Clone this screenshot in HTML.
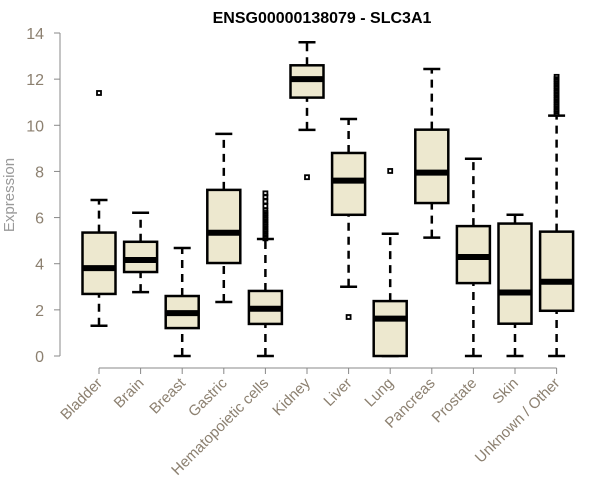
<!DOCTYPE html>
<html><head><meta charset="utf-8"><style>
body{margin:0;background:#fff;}
svg{display:block;font-family:"Liberation Sans",Arial,sans-serif;}
</style></head><body>
<svg id="chart" width="600" height="500">
<text x="322" y="23" text-anchor="middle" font-weight="bold" font-size="16" fill="#000">ENSG00000138079 - SLC3A1</text>
<text transform="translate(14,195) rotate(-90)" text-anchor="middle" font-size="15" fill="#999">Expression</text>
<g id="plot"></g>
</svg>
<script>
const categories=["Bladder","Brain","Breast","Gastric","Hematopoietic cells","Kidney","Liver","Lung","Pancreas","Prostate","Skin","Unknown / Other"];
const whiskerLow=[1.31,2.77,0,2.34,0,9.8,3.0,0,5.13,0,0,0];
const q1=[2.69,3.64,1.21,4.03,1.39,11.2,6.12,0,6.63,3.16,1.4,1.96];
const median=[3.81,4.16,1.86,5.34,2.05,12.0,7.6,1.62,7.95,4.29,2.75,3.22];
const q3=[5.35,4.95,2.6,7.2,2.82,12.6,8.8,2.38,9.81,5.63,5.74,5.39];
const whiskerHigh=[6.76,6.21,4.68,9.63,5.07,13.6,10.27,5.3,12.44,8.55,6.12,10.42];
const outliers=[[11.4],[],[],[],[5.1,5.2,5.3,5.4,5.5,5.6,5.7,5.8,5.9,6.0,6.1,6.2,6.3,6.5,6.7,6.9,7.05],[7.75],[1.69],[8.02],[],[],[],[10.5,10.6,10.7,10.8,10.9,11.0,11.1,11.2,11.3,11.4,11.5,11.6,11.7,11.8,11.9,12.0,12.1]];
const yTicks=[0,2,4,6,8,10,12,14];

const NS="http://www.w3.org/2000/svg";
const g=document.getElementById('plot');
const y=v=>356-v*(323/14);
const x=i=>99+i*41.6;
function mk(tag,a){const e=document.createElementNS(NS,tag);for(const k in a)e.setAttribute(k,a[k]);g.appendChild(e);return e;}

let ax=mk('line',{x1:60,y1:y(0),x2:60,y2:y(14),stroke:'#888','stroke-width':1});


yTicks.forEach(t=>{
  let l=mk('line',{x1:54,y1:y(t),x2:60,y2:y(t),stroke:'#888'});
  
  
  let tx=mk('text',{x:44,y:y(t)+6,'text-anchor':'end','font-size':16,fill:'#8c8070'});
  tx.textContent=t;
  
  
});
let xa=mk('line',{x1:x(0),y1:368,x2:x(categories.length-1),y2:368,stroke:'#888'});



categories.forEach((c,i)=>{
  const cx=x(i),w=16.5;
  let t=mk('line',{x1:cx,y1:368,x2:cx,y2:374,stroke:'#888'});
  
  
  let lab=mk('text',{transform:`translate(${cx+4},${384}) rotate(-45)`,'text-anchor':'end','font-size':15,fill:'#8c8070'});
  lab.textContent=c;
  
  
  const wh=[[whiskerLow[i],q1[i]],[q3[i],whiskerHigh[i]]];
  wh.forEach(([a,b])=>{
    if(b-a>0.01){
      let l=mk('line',{x1:cx,y1:y(a),x2:cx,y2:y(b),stroke:'#000','stroke-width':2.5,'stroke-dasharray':'8,6'});
      
      
    }
  });
  [whiskerLow[i],whiskerHigh[i]].forEach(v=>{
    let c2=mk('line',{x1:cx-8.5,y1:y(v),x2:cx+8.5,y2:y(v),stroke:'#000','stroke-width':2.5});
    
    
  });
  let r=mk('rect',{x:cx-w,y:y(q3[i]),width:2*w,height:Math.max(0.5,y(q1[i])-y(q3[i])),fill:'#ede8cf',stroke:'#000','stroke-width':2.5});
  
  
  let m=mk('line',{x1:cx-w,y1:y(median[i]),x2:cx+w,y2:y(median[i]),stroke:'#000','stroke-width':6});
  
  
  outliers[i].forEach(v=>{
    let o=mk('rect',{x:cx-2,y:y(v)-2,width:4,height:4,fill:'none',stroke:'#000','stroke-width':1.8});
    
    
  });
});
</script>
</body></html>
